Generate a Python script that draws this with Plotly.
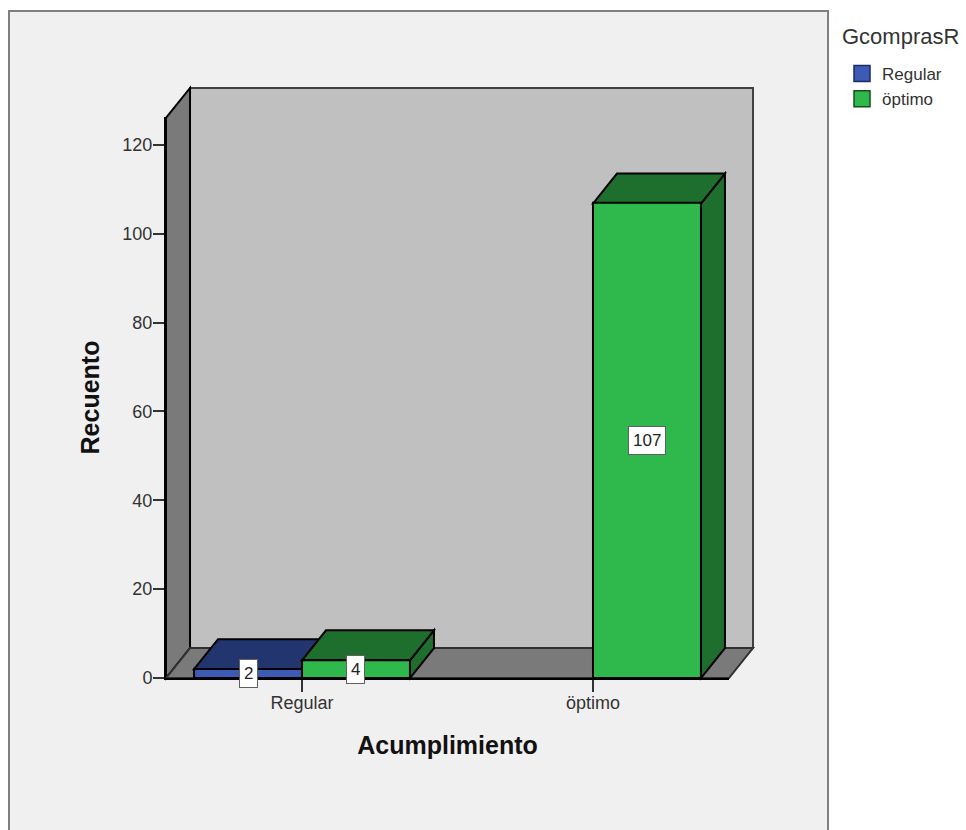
import plotly.graph_objects as go

# Chart data
categories = ["Regular", "öptimo"]
series_names = ["Regular", "öptimo"]
legend_title = "GcomprasR"
regular_counts = [2, None]
optimo_counts = [4, 107]
y_ticks = [0, 20, 40, 60, 80, 100, 120]

# Colours
BLUE_FRONT, BLUE_TOP = "#3d5ab5", "#22356f"
GREEN_FRONT, GREEN_DARK = "#2fb84c", "#1e6e2e"
WALL_BACK, WALL_DARK = "#c0c0c0", "#7a7a7a"
PANEL = "#f0f0f0"
FONT = "Liberation Sans"

W, H = 966, 830
BAR_W = 0.371          # bar width in category units
X_MIN, X_MAX = -0.4674, 1.4674
Y_MAX = 126.3
DX, DY = 0.0825, 6.75  # oblique depth of the 3D box, in axis units
PX_X = (729 - 166) / (X_MAX - X_MIN)
PX_Y = (678 - 117) / Y_MAX
PAD = 4                # spare pixels so edge strokes on the box are not clipped


def poly(points, fill, line="#000000", width=2):
    path = "M" + " L".join(f"{x},{y}" for x, y in points) + " Z"
    return dict(type="path", path=path, xref="x", yref="y", layer="below",
                fillcolor=fill, line=dict(color=line, width=width))


def bar_depth(x0, value, colour):
    """Top and side faces of one bar."""
    x1 = x0 + BAR_W
    return [
        poly([(x1, 0), (x1 + DX, DY), (x1 + DX, value + DY), (x1, value)], colour),
        poly([(x0, value), (x0 + DX, value + DY), (x1 + DX, value + DY), (x1, value)], colour),
    ]


shapes = [
    # Grey chart panel
    dict(type="rect", xref="paper", yref="paper", layer="below",
         x0=9 / W, x1=828 / W, y0=-0.02, y1=1 - 11 / H,
         fillcolor=PANEL, line=dict(color="#808080", width=2)),
    # Back wall, side wall and floor of the box
    poly([(X_MIN + DX, DY), (X_MAX + DX, DY), (X_MAX + DX, Y_MAX + DY), (X_MIN + DX, Y_MAX + DY)],
         WALL_BACK, "#404040"),
    poly([(X_MIN, 0), (X_MIN + DX, DY), (X_MIN + DX, Y_MAX + DY), (X_MIN, Y_MAX)], WALL_DARK),
    poly([(X_MIN, 0), (X_MIN + DX, DY), (X_MAX + DX, DY), (X_MAX, 0)], WALL_DARK, "#303030"),
]
for i, value in enumerate(regular_counts):
    if value is not None:
        shapes += bar_depth(i - BAR_W, value, BLUE_TOP)
for i, value in enumerate(optimo_counts):
    if value is not None:
        shapes += bar_depth(i, value, GREEN_DARK)

fig = go.Figure()

# Bar fronts sit on the visible axes; the depth faces live on the hidden wider pair
for name, values, colour in [(series_names[0], regular_counts, BLUE_FRONT),
                             (series_names[1], optimo_counts, GREEN_FRONT)]:
    fig.add_bar(x=categories, y=values, name=name, xaxis="x2", yaxis="y2", showlegend=False,
                marker=dict(color=colour, line=dict(color="#000000", width=2)))

# Legend keys
for name, colour, edge in [(series_names[0], BLUE_FRONT, "#1c2c60"),
                           (series_names[1], GREEN_FRONT, "#14501f")]:
    fig.add_scatter(x=[None], y=[None], name=name, mode="markers", xaxis="x2", yaxis="y2",
                    marker=dict(symbol="square", size=17, color=colour,
                                line=dict(color=edge, width=1.5)))

# Value labels in white boxes at mid-height of each bar
annotations = [
    dict(x=840 / W, y=1 - 36 / H, xref="paper", yref="paper", xanchor="left", yanchor="middle",
         text=legend_title, showarrow=False, font=dict(family=FONT, size=22, color="#333333")),
]
for offset, values in [(-BAR_W / 2, regular_counts), (BAR_W / 2, optimo_counts)]:
    for i, value in enumerate(values):
        if value is not None:
            annotations.append(dict(
                x=i + offset, y=value / 2, xref="x2", yref="y2", text=str(value),
                showarrow=False, bgcolor="#ffffff", bordercolor="#606060", borderwidth=1,
                borderpad=4, font=dict(family=FONT, size=17, color="#222222")))

fig.update_layout(
    width=W, height=H, autosize=False,
    margin=dict(l=0, r=0, t=0, b=0, autoexpand=False),
    paper_bgcolor="#ffffff", plot_bgcolor="rgba(0,0,0,0)",
    barmode="group", bargap=1 - 2 * BAR_W, bargroupgap=0,
    shapes=shapes, annotations=annotations,
    font=dict(family=FONT, color="#333333"),
    legend=dict(x=842 / W, y=1 - 56 / H, xanchor="left", yanchor="top",
                font=dict(size=17, color="#333333"), bgcolor="rgba(0,0,0,0)"),
    # Hidden pair carrying the oblique box, same scale as the visible axes
    xaxis=dict(visible=False, fixedrange=True, anchor="y",
               domain=[(166 - PAD) / W, (753 + PAD) / W],
               range=[X_MIN - PAD / PX_X, X_MAX + DX + PAD / PX_X]),
    yaxis=dict(visible=False, fixedrange=True, anchor="x",
               domain=[(H - 678 - PAD) / H, (H - 88 + PAD) / H],
               range=[-PAD / PX_Y, Y_MAX + DY + PAD / PX_Y]),
    # Visible axes on the front plane of the box
    xaxis2=dict(anchor="y2", domain=[166 / W, 729 / W], range=[X_MIN, X_MAX],
                type="category", showgrid=False, zeroline=False, showline=True,
                linecolor="#000000", linewidth=2,
                ticks="outside", ticklen=12, tickwidth=2, tickcolor="#333333",
                ticklabelstandoff=-5,
                tickfont=dict(size=18, color="#333333"),
                title=dict(text="<b>Acumplimiento</b>", standoff=25,
                           font=dict(size=25, color="#111111"))),
    yaxis2=dict(anchor="x2", domain=[(H - 678) / H, (H - 117) / H], range=[0, Y_MAX],
                tickvals=y_ticks, showgrid=False, zeroline=False, showline=True,
                linecolor="#000000", linewidth=2,
                ticks="outside", ticklen=11, tickwidth=2, tickcolor="#333333",
                ticklabelstandoff=-3,
                tickfont=dict(size=18, color="#333333"),
                title=dict(text="<b>Recuento</b>", standoff=16,
                           font=dict(size=25, color="#111111"))),
)

fig.write_html("out.html", config=dict(displayModeBar=False))
